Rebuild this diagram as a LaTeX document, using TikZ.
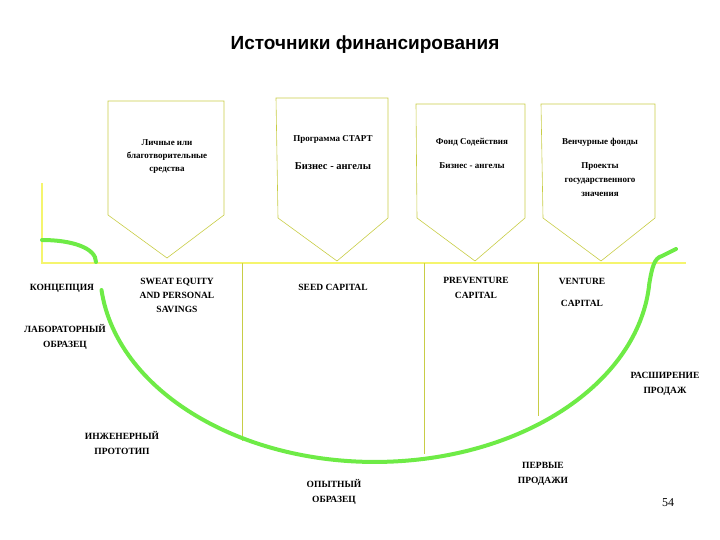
\documentclass[tikz,border=0pt]{standalone}
\usepackage{fontspec}
\setmainfont{Liberation Serif}
\newfontfamily\titlefont{Liberation Sans}
\begin{document}
\begin{tikzpicture}[x=1pt,y=-1pt,
  lbl/.style={font=\bfseries\fontsize{9.5}{14}\selectfont,align=center,inner sep=0pt},
  boxtxt/.style={font=\bfseries\fontsize{9}{13}\selectfont,align=center,inner sep=0pt},
  pent/.style={draw=boxyel,line width=0.6pt},
  axis/.style={draw=axisyel,line width=2.5pt},
  vline/.style={draw=boxyel,line width=0.6pt},
  curve/.style={draw=curvegreen,line width=4pt,line cap=round}]
\definecolor{boxyel}{RGB}{200,205,70}
\definecolor{axisyel}{RGB}{245,245,110}
\definecolor{curvegreen}{RGB}{110,235,70}
\useasboundingbox (0,0) rectangle (720,540);
\node[font=\titlefont\bfseries\fontsize{19}{22}\selectfont] (title) at (365,45) {Источники финансирования};
% axes
\coordinate (a0) at (42,183); \coordinate (a1) at (42,263); \coordinate (a2) at (686,263);
\draw[axis] (a0) -- (a1) -- (a2);
% pentagons
\draw[pent] (108,101) -- (224,101) -- (224,215) -- (167,258) -- (108,215) -- cycle;
\draw[pent] (276,98) -- (388,98) -- (388,218) -- (337,261) -- (278,218) -- cycle;
\draw[pent] (416,104) -- (525,104) -- (525,218) -- (475,261) -- (417,218) -- cycle;
\draw[pent] (541,104) -- (655,104) -- (655,218) -- (601,261) -- (543,218) -- cycle;
% vertical lines
\draw[vline] (242,263) -- (242,441);
\draw[vline] (424,263) -- (424,454);
\draw[vline] (538,263) -- (538,416);
% curves
\draw[curve] (42,240) .. controls (72,240) and (96,248) .. (96,262);
\draw[curve] (101.5,290) arc[start angle=174,end angle=4,x radius=275,y radius=192]
  .. controls (652,268) and (654,258) .. (662,256) -- (676,249);
% box texts
\node[boxtxt] (t1) at (167,157) {Личные или\\благотворительные\\средства};
\node[boxtxt] (t2) at (333,139) {Программа СТАРТ};
\node[boxtxt,font=\bfseries\fontsize{10.5}{12}\selectfont] (t3) at (333,166) {Бизнес - ангелы};
\node[boxtxt] (t4) at (472,142) {Фонд Содействия};
\node[boxtxt] (t5) at (472,166) {Бизнес - ангелы};
\node[boxtxt] (t6) at (600,142) {Венчурные фонды};
\node[boxtxt,font=\bfseries\fontsize{9}{14}\selectfont] (t7) at (600,180) {Проекты\\государственного\\значения};
% stage labels
\node[lbl] (l1) at (62,288) {КОНЦЕПЦИЯ};
\node[lbl] (l2) at (177,295) {SWEAT EQUITY\\AND PERSONAL\\SAVINGS};
\node[lbl] (l3) at (333,287) {SEED CAPITAL};
\node[lbl,font=\bfseries\fontsize{9.5}{15}\selectfont] (l4) at (476,288) {PREVENTURE\\CAPITAL};
\node[lbl] (l5) at (582,281) {VENTURE};
\node[lbl] (l6) at (582,303) {CAPITAL};
\node[lbl,font=\bfseries\fontsize{9.5}{15}\selectfont] (l7) at (65,337) {ЛАБОРАТОРНЫЙ\\ОБРАЗЕЦ};
\node[lbl,font=\bfseries\fontsize{9.5}{15}\selectfont] (l8) at (665,384) {РАСШИРЕНИЕ\\ПРОДАЖ};
\node[lbl,font=\bfseries\fontsize{9.5}{15}\selectfont] (l9) at (122,443) {ИНЖЕНЕРНЫЙ\\ПРОТОТИП};
\node[lbl,font=\bfseries\fontsize{9.5}{15}\selectfont] (l10) at (334,492) {ОПЫТНЫЙ\\ОБРАЗЕЦ};
\node[lbl,font=\bfseries\fontsize{9.5}{15}\selectfont] (l11) at (543,474) {ПЕРВЫЕ\\ПРОДАЖИ};
\node[font=\fontsize{12}{12}\selectfont] (pg) at (668,503) {54};
\end{tikzpicture}
\end{document}
